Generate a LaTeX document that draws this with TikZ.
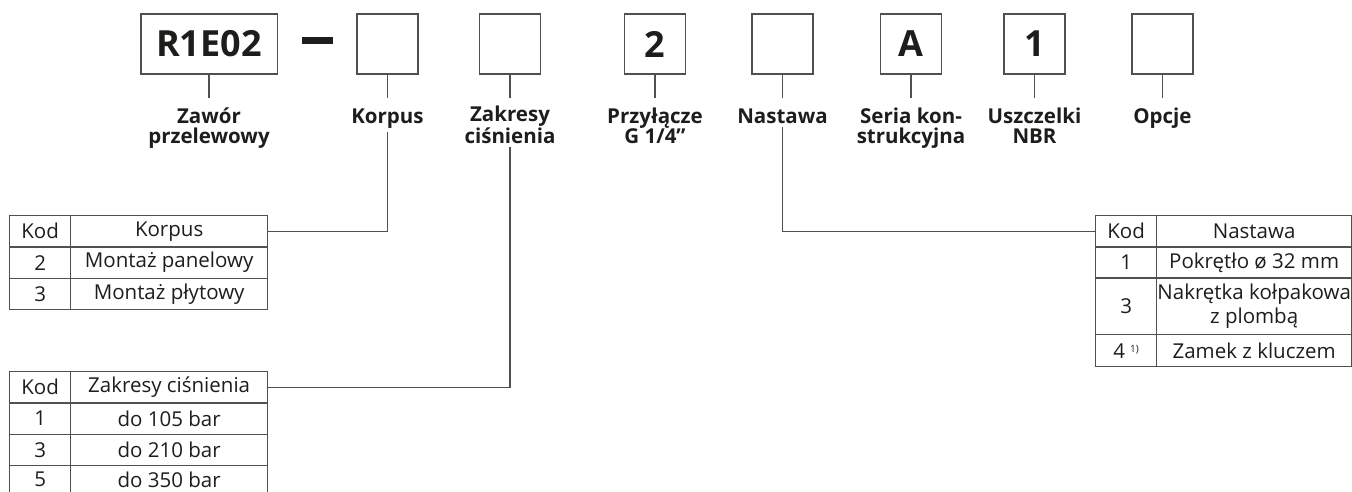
\documentclass[tikz,border=0pt]{standalone}
\usepackage{fontspec}
\setmainfont{Open Sans}
\definecolor{lc}{HTML}{505050}
\definecolor{tc}{HTML}{1D1D1B}
\begin{document}
\begin{tikzpicture}[x=1pt,y=-1pt,
  ln/.style={draw=lc, line width=1.3pt},
  codebox/.style={draw=lc, line width=1.3pt, minimum width=61pt, minimum height=60pt, inner sep=0pt, font=\bfseries\fontsize{36}{36}\selectfont, text=tc},
  lab/.style={font=\bfseries\fontsize{20.5}{20}\selectfont, align=center, text=tc, anchor=base, inner xsep=0pt, inner ysep=4pt},
  cell/.style={draw=lc, line width=1.3pt, minimum height=31.3pt, inner sep=0pt, font=\fontsize{20.5}{24}\selectfont, text=tc, anchor=north west, align=center},
  kod/.style={cell, minimum width=61pt},
]
\path[use as bounding box, clip] (0,0) rectangle (1352,491);
% code boxes
\node[codebox, minimum width=136.3pt] (b0) at (209,44) {R1E02};
\node[fill=tc, minimum width=31pt, minimum height=6.5pt, inner sep=0pt] (dash) at (317.5,40.5) {};
\node[codebox] (b1) at (387.5,44) {};
\node[codebox] (b2) at (510,44) {};
\node[codebox] (b3) at (655,44) {2};
\node[codebox] (b4) at (782.5,44) {};
\node[codebox] (b5) at (911,44) {A};
\node[codebox] (b6) at (1034.5,44) {1};
\node[codebox] (b7) at (1162.5,44) {};
% labels (base = last line baseline)
\node[lab] (l0) at (209,143) {Zawór\\przelewowy};
\node[lab] (l1) at (387.5,123) {Korpus};
\node[lab] (l2) at (510,143) {Zakresy\\ciśnienia};
\node[lab] (l3) at (655,143) {Przyłącze\\G 1/4''};
\node[lab] (l4) at (782.5,123) {Nastawa};
\node[lab] (l5) at (911,143) {Seria kon-\\strukcyjna};
\node[lab] (l6) at (1034.5,143) {Uszczelki\\NBR};
\node[lab] (l7) at (1162.5,123) {Opcje};
% short connectors
\foreach \i in {0,...,7} {\draw[ln] (b\i.south) -- ++(0,23);}
% Korpus table
\node[kod] (k00) at (9,215) {Kod};
\node[cell, minimum width=197pt] (k01) at (70,215) {Korpus};
\node[kod] (k10) at (9,246.3) {2};
\node[cell, minimum width=197pt] (k11) at (70,246.3) {Montaż panelowy};
\node[kod] (k20) at (9,277.6) {3};
\node[cell, minimum width=197pt] (k21) at (70,277.6) {Montaż płytowy};
% Zakresy table
\node[kod] (z00) at (9,371) {Kod};
\node[cell, minimum width=197pt] (z01) at (70,371) {Zakresy ciśnienia};
\node[kod] (z10) at (9,402.3) {1};
\node[cell, minimum width=197pt] (z11) at (70,402.3) {do 105 bar};
\node[kod] (z20) at (9,433.6) {3};
\node[cell, minimum width=197pt] (z21) at (70,433.6) {do 210 bar};
\node[kod, minimum height=28pt] (z30) at (9,464.9) {5};
\node[cell, minimum width=197pt, minimum height=28pt] (z31) at (70,464.9) {do 350 bar};
% Nastawa table
\node[kod] (n00) at (1095,215) {Kod};
\node[cell, minimum width=195pt] (n01) at (1156,215) {Nastawa};
\node[kod] (n10) at (1095,246) {1};
\node[cell, minimum width=195pt] (n11) at (1156,246) {Pokrętło ø 32 mm};
\node[kod, minimum height=57pt] (n20) at (1095,277) {3};
\node[cell, minimum width=195pt, minimum height=57pt] (n21) at (1156,277) {Nakrętka kołpakowa\\z plombą};
\node[kod, minimum height=32pt] (n30) at (1095,334) {4\hspace{5pt}\raisebox{6pt}{\fontsize{10}{10}\selectfont 1)}};
\node[cell, minimum width=195pt, minimum height=32pt] (n31) at (1156,334) {Zamek z kluczem};
% long connectors
\draw[ln] (l1.south) |- (k01.east);
\draw[ln] (l2.south) |- (z01.east);
\draw[ln] (l4.south) |- (n00.west);
\end{tikzpicture}
\end{document}
